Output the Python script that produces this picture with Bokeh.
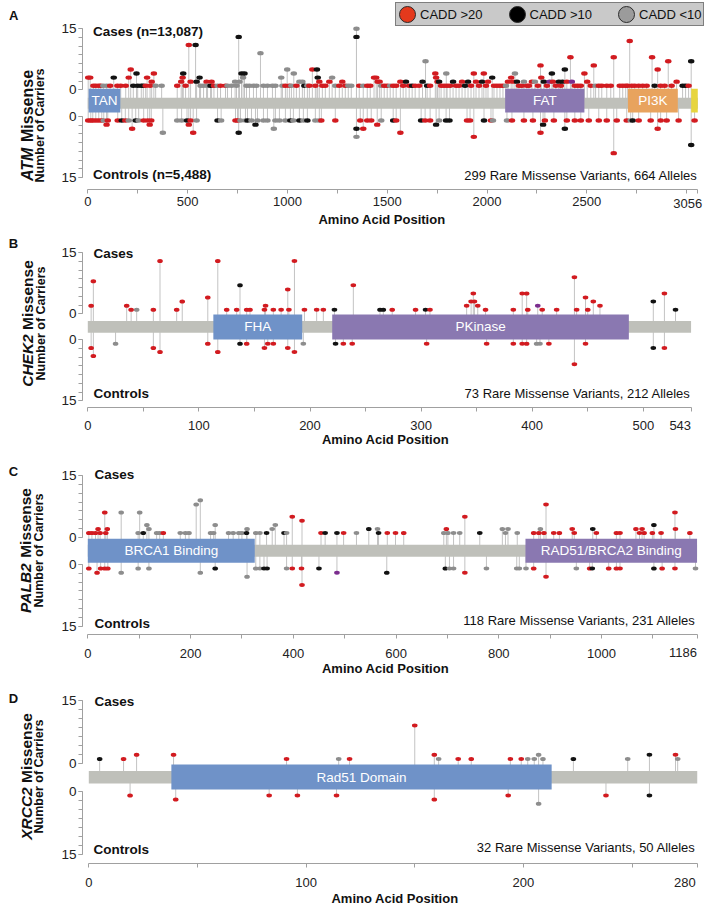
import math
import numpy as np
from bokeh.plotting import figure
from bokeh.models import (Range1d, LinearAxis, FixedTicker, Legend, LegendItem,
                          ColumnDataSource)
from bokeh.layouts import column
from bokeh.embed import file_html
from bokeh.resources import INLINE
from bokeh.core.properties import value

# ------------------------------------------------------------------ data
GENES = ["ATM", "CHEK2", "PALB2", "XRCC2"]
PANEL_LETTERS = ["A", "B", "C", "D"]
GENE_LENGTHS = [3056, 543, 1186, 280]
CASES_LABELS = ["Cases (n=13,087)", "Cases", "Cases", "Cases"]
CONTROLS_LABELS = ["Controls (n=5,488)", "Controls", "Controls", "Controls"]
SUMMARY_LABELS = ["299 Rare Missense Variants, 664 Alleles",
                  "73 Rare Missense Variants, 212 Alleles",
                  "118 Rare Missense Variants, 231 Alleles",
                  "32 Rare Missense Variants, 50 Alleles"]
X_TITLE = "Amino Acid Position"
Y_TITLE_WORD = "Missense"
Y_TITLE_2 = "Number of Carriers"
Y_TICK_LABELS = ["0", "15"]
Y_MAX = 15
LEGEND_LABELS = ["CADD >20", "CADD >10", "CADD <10"]

X_MAJOR_TICKS = [[0, 500, 1000, 1500, 2000, 2500, 3056],
                 [0, 100, 200, 300, 400, 500, 543],
                 [0, 200, 400, 600, 800, 1000, 1186],
                 [0, 100, 200, 280]]
X_MINOR_TICKS = [[250, 750, 1250, 1750, 2250, 2750, 3000],
                 [50, 150, 250, 350, 450],
                 [100, 300, 500, 700, 900, 1100],
                 [50, 150, 250]]

# domains
ATM_DOMAIN_NAMES = ["TAN", "FAT", "PI3K", ""]
ATM_DOMAIN_START = [4, 2091, 2706, 3023]
ATM_DOMAIN_END = [163, 2488, 2956, 3056]
ATM_DOMAIN_KIND = ["blue", "purple", "orange", "yellow"]

CHEK2_DOMAIN_NAMES = ["FHA", "PKinase"]
CHEK2_DOMAIN_START = [113, 220]
CHEK2_DOMAIN_END = [193, 487]
CHEK2_DOMAIN_KIND = ["blue", "purple"]

PALB2_DOMAIN_NAMES = ["BRCA1 Binding", "RAD51/BRCA2 Binding"]
PALB2_DOMAIN_START = [0, 852]
PALB2_DOMAIN_END = [325, 1186]
PALB2_DOMAIN_KIND = ["blue", "purple"]

XRCC2_DOMAIN_NAMES = ["Rad51 Domain"]
XRCC2_DOMAIN_START = [38]
XRCC2_DOMAIN_END = [213]
XRCC2_DOMAIN_KIND = ["blue"]

# CADD classes: r = >20, k = >10, g = <10, p = other
ATM_CASES_POS = [
    2, 12, 28, 40, 55, 65, 78, 95, 112, 130,
    148, 165, 190, 205, 215, 228, 244, 250, 268, 278,
    290, 297, 312, 320, 331, 340, 370, 448, 468, 475,
    478, 490, 506, 515, 540, 545, 560, 565, 580, 595,
    600, 615, 620, 632, 650, 665, 690, 700, 720, 738,
    745, 756, 760, 770, 778, 785, 795, 810, 830, 845,
    865, 880, 900, 925, 940, 969, 975, 990, 999, 1010,
    1020, 1032, 1045, 1060, 1075, 1085, 1100, 1110, 1125, 1140,
    1148, 1152, 1160, 1175, 1190, 1210, 1224, 1240, 1260, 1275,
    1290, 1305, 1320, 1346, 1346, 1360, 1380, 1400, 1415, 1434,
    1445, 1452, 1462, 1470, 1485, 1500, 1515, 1530, 1545, 1566,
    1580, 1594, 1610, 1625, 1640, 1660, 1677, 1692, 1700, 1715,
    1741, 1745, 1752, 1760, 1770, 1785, 1796, 1800, 1815, 1830,
    1845, 1860, 1875, 1890, 1905, 1920, 1934, 1945, 1960, 1975,
    1984, 1995, 2005, 2026, 2035, 2050, 2065, 2080, 2095, 2105,
    2121, 2130, 2140, 2150, 2160, 2175, 2185, 2200, 2210, 2225,
    2240, 2255, 2268, 2272, 2285, 2300, 2314, 2325, 2330, 2345,
    2360, 2370, 2378, 2390, 2400, 2418, 2425, 2440, 2455, 2470,
    2488, 2502, 2520, 2535, 2544, 2560, 2575, 2600, 2620, 2635,
    2665, 2680, 2695, 2705, 2715, 2725, 2740, 2760, 2780, 2800,
    2827, 2840, 2855, 2870, 2890, 2908, 2925, 2950, 2980, 2995,
    3010, 3023]
ATM_CASES_N = [
    3, 3, 1, 1, 1, 1, 1, 1, 1, 3,
    1, 1, 1, 3, 5, 1, 4, 1, 1, 1,
    1, 3, 1, 2, 4, 1, 1, 1, 2, 3,
    4, 1, 11, 2, 11, 2, 3, 1, 1, 2,
    1, 1, 2, 1, 1, 1, 1, 1, 1, 2,
    1, 13, 2, 4, 3, 4, 1, 1, 1, 1,
    9, 1, 1, 1, 1, 3, 1, 1, 5, 1,
    1, 4, 1, 2, 2, 1, 1, 1, 5, 1,
    5, 3, 2, 1, 1, 2, 3, 1, 1, 2,
    1, 1, 1, 15, 13, 1, 1, 1, 1, 3,
    3, 2, 2, 1, 1, 1, 1, 1, 1, 2,
    1, 2, 1, 1, 1, 1, 2, 7, 1, 1,
    4, 3, 2, 2, 1, 1, 4, 1, 1, 2,
    1, 1, 2, 1, 2, 1, 4, 2, 1, 2,
    4, 1, 2, 3, 1, 1, 1, 1, 1, 2,
    3, 2, 4, 2, 1, 1, 2, 1, 1, 2,
    2, 1, 6, 3, 2, 1, 2, 4, 2, 1,
    2, 1, 2, 5, 2, 8, 2, 1, 1, 1,
    4, 2, 1, 6, 1, 1, 1, 1, 1, 8,
    1, 1, 1, 1, 12, 1, 1, 1, 1, 1,
    8, 1, 5, 1, 1, 7, 1, 2, 1, 1,
    1, 7]
ATM_CASES_CADD = list(
    "rrrrrrggrk" "rrrrrkkkkk" "rrrrrggrrr" "krrrkkkggr" "gkrrgrrggg"
    "gkgkgkgggg" "gggggggrgr" "ggrggkgrrr" "kkrrrrggrr" "rggg" "krgrrr"
    "rrrgrrgrrr" "rkrkrrkgkr" "rrrkrrgrrk" "rrrkkrrrrk" "rrrkrrrrgr"
    "rrgkrrgrrr" "grrrkrpkrr" "krkkrrprrr" "rrrrgrrrrr" "rrrrrrrrrr"
    "rkrrrrrrkk" "rk")

ATM_CONTROLS_POS = [
    2, 15, 25, 40, 55, 70, 80, 94, 100, 150,
    170, 188, 205, 222, 240, 255, 280, 300, 310, 318,
    376, 448, 470, 497, 506, 515, 528, 545, 650, 668,
    740, 750, 756, 765, 790, 800, 820, 840, 850, 880,
    900, 932, 940, 960, 990, 1015, 1030, 1060, 1080, 1100,
    1140, 1160, 1170, 1240, 1346, 1346, 1365, 1380, 1400, 1420,
    1450, 1470, 1530, 1545, 1566, 1670, 1690, 1715, 1745, 1760,
    1795, 1812, 1900, 1915, 1934, 1985, 2020, 2030, 2100, 2125,
    2185, 2230, 2268, 2281, 2290, 2335, 2390, 2400, 2440, 2470,
    2510, 2560, 2600, 2635, 2650, 2700, 2720, 2730, 2760, 2820,
    2855, 2870, 2900, 2960, 3023, 3040]
ATM_CONTROLS_N = [
    1, 1, 1, 1, 1, 1, 1, 2, 1, 1,
    1, 1, 1, 3, 1, 1, 1, 1, 2, 1,
    4, 1, 1, 1, 2, 1, 4, 1, 1, 1,
    1, 1, 4, 1, 1, 1, 1, 2, 1, 1,
    1, 3, 1, 1, 1, 1, 1, 1, 1, 1,
    1, 1, 1, 1, 3, 5, 1, 3, 1, 1,
    2, 1, 1, 1, 4, 1, 1, 1, 2, 1,
    1, 1, 1, 1, 5, 1, 1, 1, 1, 1,
    1, 1, 4, 2, 1, 1, 3, 1, 1, 1,
    1, 1, 1, 9, 1, 1, 1, 1, 1, 1,
    3, 1, 1, 1, 7, 1]
ATM_CONTROLS_CADD = list(
    "rrrrrrgrrr" "krgrkgrrrr" "gggkrrrgkg" "rrkggkgkgg" "gggggkgkgk"
    "ggrrkgrrrr" "rgkrrkrrkg" "kkrrrkrggr" "rrrkrrkrrr" "rrrrrrgkrr"
    "rrrrkr")

CHEK2_CASES_POS = [3, 5, 35, 39, 44, 59, 65, 80, 85, 108,
                   117, 125, 134, 137, 143, 146, 159, 160, 167, 174,
                   180, 181, 186, 195, 206, 212, 222, 239, 263, 266,
                   274, 295, 304, 308, 341, 345, 347, 348, 351, 358,
                   383, 391, 395, 396, 405, 409, 422, 438, 440, 448,
                   450, 455, 461, 509, 519, 529]
CHEK2_CASES_N = [2, 8, 2, 1, 1, 1, 13, 1, 3, 4,
                 13, 1, 1, 7, 1, 1, 1, 2, 1, 1,
                 6, 1, 13, 1, 1, 1, 1, 7, 1, 1,
                 1, 1, 1, 1, 2, 3, 5, 3, 2, 1,
                 1, 5, 5, 1, 2, 1, 1, 9, 1, 4,
                 1, 3, 2, 3, 5, 1]
CHEK2_CASES_CADD = list("rrrrgrrrrr" "rrrkrrrrrr" "rrrrrrkrkk" "rrkrrrrrrr"
                        "rrrrprrrrr" "rrrkrk")
CHEK2_CONTROLS_POS = [3, 5, 25, 59, 65, 108, 117, 137, 143, 159,
                      162, 167, 180, 186, 194, 223, 230, 238, 305, 359,
                      383, 391, 395, 404, 407, 415, 438, 448, 509, 519]
CHEK2_CONTROLS_N = [2, 4, 1, 2, 3, 1, 3, 1, 1, 2,
                    1, 1, 2, 3, 1, 1, 1, 1, 1, 1,
                    1, 1, 1, 1, 1, 1, 6, 1, 2, 2]
CHEK2_CONTROLS_CADD = list("rrgrrrrkrr" "rrrrgkrrrr" "rrrggrrrkr")

PALB2_CASES_POS = [2, 8, 15, 20, 24, 33, 35, 38, 65, 98,
                   101, 108, 115, 119, 134, 140, 147, 180, 190, 197,
                   211, 219, 239, 245, 248, 274, 283, 294, 300, 309,
                   310, 327, 335, 348, 359, 365, 382, 387, 398, 417,
                   454, 462, 485, 498, 523, 547, 564, 566, 583, 599,
                   615, 693, 698, 701, 712, 724, 734, 763, 807, 813,
                   818, 836, 868, 878, 881, 888, 892, 907, 918, 943,
                   947, 983, 990, 1029, 1036, 1067, 1074, 1079, 1083, 1099,
                   1102, 1116, 1143, 1144, 1172]
PALB2_CASES_N = [1, 1, 1, 2, 1, 6, 1, 2, 6, 1,
                 6, 1, 3, 2, 1, 1, 1, 1, 1, 1,
                 8, 9, 1, 1, 3, 1, 1, 1, 1, 1,
                 2, 1, 1, 1, 2, 3, 1, 1, 5, 4,
                 1, 1, 1, 1, 1, 2, 2, 1, 1, 1,
                 1, 1, 2, 1, 1, 1, 5, 1, 2, 1,
                 2, 1, 1, 1, 2, 1, 8, 1, 1, 2,
                 1, 2, 1, 1, 1, 2, 1, 2, 1, 1,
                 3, 1, 6, 2, 1]
PALB2_CASES_CADD = list("rrrrrrrrgg" "gkggggrggg" "gggggggggk" "gggkggkgrr"
                        "rkkrgkgkrr" "rgrgggrkgg" "ggrrgrrrrr" "rkrrrrrrrr"
                        "krrrr")
PALB2_CONTROLS_POS = [2, 18, 25, 33, 39, 65, 98, 119, 219, 248,
                      310, 327, 335, 343, 349, 387, 398, 416, 417, 450,
                      485, 582, 696, 704, 712, 734, 776, 835, 840, 853,
                      868, 892, 951, 977, 982, 1014, 1029, 1036, 1102, 1118,
                      1143, 1183]
PALB2_CONTROLS_N = [1, 2, 1, 1, 1, 2, 1, 1, 2, 1,
                    3, 1, 1, 1, 1, 1, 1, 1, 5, 1,
                    2, 2, 1, 1, 1, 2, 1, 1, 1, 1,
                    1, 3, 1, 1, 1, 1, 1, 1, 1, 1,
                    1, 1]
PALB2_CONTROLS_CADD = list("rrrrrggggk" "gggkkgrrrk" "pkkggrgggg" "rrgrkrrrkr" "rg")

XRCC2_CASES_POS = [5, 16, 22, 39, 91, 115, 120, 150, 159, 161,
                   170, 176, 194, 199, 202, 205, 207, 209, 223, 248,
                   258, 270, 271]
XRCC2_CASES_N = [1, 1, 2, 2, 1, 1, 1, 9, 2, 1,
                 1, 1, 1, 1, 1, 1, 2, 1, 1, 1,
                 2, 2, 1]
XRCC2_CASES_CADD = list("krrrrgrrrg" "rrrrggggkg" "krg")
XRCC2_CONTROLS_POS = [19, 40, 83, 96, 114, 159, 193, 207, 238, 258]
XRCC2_CONTROLS_N = [1, 2, 1, 1, 1, 2, 1, 3, 1, 1]
XRCC2_CONTROLS_CADD = list("rrrrrrrgrk")

GENE_DATA = [
    (ATM_DOMAIN_NAMES, ATM_DOMAIN_START, ATM_DOMAIN_END, ATM_DOMAIN_KIND,
     ATM_CASES_POS, ATM_CASES_N, ATM_CASES_CADD,
     ATM_CONTROLS_POS, ATM_CONTROLS_N, ATM_CONTROLS_CADD),
    (CHEK2_DOMAIN_NAMES, CHEK2_DOMAIN_START, CHEK2_DOMAIN_END, CHEK2_DOMAIN_KIND,
     CHEK2_CASES_POS, CHEK2_CASES_N, CHEK2_CASES_CADD,
     CHEK2_CONTROLS_POS, CHEK2_CONTROLS_N, CHEK2_CONTROLS_CADD),
    (PALB2_DOMAIN_NAMES, PALB2_DOMAIN_START, PALB2_DOMAIN_END, PALB2_DOMAIN_KIND,
     PALB2_CASES_POS, PALB2_CASES_N, PALB2_CASES_CADD,
     PALB2_CONTROLS_POS, PALB2_CONTROLS_N, PALB2_CONTROLS_CADD),
    (XRCC2_DOMAIN_NAMES, XRCC2_DOMAIN_START, XRCC2_DOMAIN_END, XRCC2_DOMAIN_KIND,
     XRCC2_CASES_POS, XRCC2_CASES_N, XRCC2_CASES_CADD,
     XRCC2_CONTROLS_POS, XRCC2_CONTROLS_N, XRCC2_CONTROLS_CADD),
]

# ------------------------------------------------------------------ style
FONT = "Liberation Sans"
CADD_COLOR = {"r": "#d21b20", "k": "#121212", "g": "#8d8d8d", "p": "#7b2d8e"}
LEGEND_COLORS = ["#e4391c", "#000000", "#9b9b9b"]
DOMAIN_COLOR = {"blue": "#6f92c8", "purple": "#8a78b1", "orange": "#e8a35e",
                "yellow": "#e7d53e"}
BAR_COLOR = "#bfc0ba"
STEM_COLOR = "#c3c3c3"
AXIS_COLOR = "#a0a0a0"
TEXT_COLOR = "#111111"

# Arial-metric advance widths (per 1000 em) for laying out the mixed-style titles
BOLD_W = {"A": 722, "T": 611, "M": 833, "C": 722, "H": 722, "E": 667, "K": 722,
          "2": 556, "P": 667, "L": 611, "B": 722, "X": 667, "R": 722, " ": 278,
          "i": 278, "s": 556, "e": 556, "n": 611}

W = 708
ORIGIN = 0   # page x/y of the canvas origin (the page template has no margin)

LAYOUT = [
    dict(top=0, height=229, x0=87.3, k=0.1996, yc=102.65, s=4.07, G=3.28,
         box=(3.53, -2.3), bar=1.35, xaxis_py=188.8, yaxis_px=82.0, dot=(6.5, 4.4),
         xlab_standoff=4, last_label=(4.5, 202.5), letter=(13.3, 15.0), cases=(92.5, 31.0),
         controls=(92.5, 174.0), summary=(697.0, 175.0), xtitle=(381.5, 219.0),
         ytitle_c=125.0, ytitle_x=(27.0, 39.5), gene_size=16.0, legend=True),
    dict(top=229, height=226, x0=87.3, k=1.111, yc=326.3, s=4.07, G=3.19,
         box=(3.05, -3.1), bar=1.44, xaxis_py=406.7, yaxis_px=82.0, dot=(5.6, 4.0),
         xlab_standoff=10, last_label=(0.0, 425.0), letter=(13.0, 243.0), cases=(93.0, 253.3),
         controls=(93.0, 392.7), summary=(690.0, 392.7), xtitle=(385.0, 439.0),
         ytitle_c=323.0, ytitle_x=(27.0, 40.0), gene_size=15.5, legend=False),
    dict(top=455, height=228, x0=87.3, k=0.5137, yc=550.35, s=4.1, G=3.33,
         box=(2.95, -2.93), bar=1.46, xaxis_py=634.0, yaxis_px=82.0, dot=(5.6, 4.0),
         xlab_standoff=10, last_label=(0.0, 652.3), letter=(13.0, 470.7), cases=(94.0, 474.3),
         controls=(94.0, 622.7), summary=(695.0, 620.0), xtitle=(385.0, 668.0),
         ytitle_c=550.0, ytitle_x=(24.5, 38.0), gene_size=15.5, legend=False),
    dict(top=683, height=234, x0=88.3, k=2.173, yc=776.7, s=4.2, G=3.33,
         box=(3.0, -2.95), bar=1.5, xaxis_py=862.7, yaxis_px=82.0, dot=(5.6, 4.0),
         xlab_standoff=11, last_label=(-1.5, 881.7), letter=(13.0, 698.3), cases=(94.0, 701.0),
         controls=(93.0, 849.0), summary=(695.0, 846.7), xtitle=(394.5, 898.0),
         ytitle_c=776.0, ytitle_x=(25.5, 38.5), gene_size=15.5, legend=False),
]


def build(i):
    cfg = LAYOUT[i]
    (dnames, dstart, dend, dkind, cpos, cn, ccadd, kpos, kn, kcadd) = GENE_DATA[i]
    L = GENE_LENGTHS[i]
    top, H = cfg["top"], cfg["height"]
    x0, k, yc, s, G = cfg["x0"], cfg["k"], cfg["yc"], cfg["s"], cfg["G"]

    def fx(px):
        return (px - x0) / k

    def fy(py):
        return (yc - py) / s

    p = figure(width=W, height=H,
               x_range=Range1d(fx(ORIGIN), fx(ORIGIN + W)),
               y_range=Range1d(fy(top + H), fy(top)),
               x_axis_type=None, y_axis_type=None,
               output_backend="svg", toolbar_location=None, min_border=0,
               outline_line_color=None, background_fill_color="white",
               border_fill_color="white")

    # ---- lollipops
    xs = list(cpos) + list(kpos)
    ys = [G + n for n in cn] + [-(G + n) for n in kn]
    cols = [CADD_COLOR[c] for c in list(ccadd) + list(kcadd)]
    src = ColumnDataSource(dict(x=xs, y=ys, base=[0.0] * len(xs), color=cols))
    p.segment(x0="x", y0="base", x1="x", y1="y", source=src,
              line_color=STEM_COLOR, line_width=1)

    # ---- protein bar and domains
    p.quad(left=[0], right=[L], bottom=[-cfg["bar"]], top=[cfg["bar"]],
           fill_color=BAR_COLOR, line_color=None)
    btop, bbot = cfg["box"]
    dsrc = ColumnDataSource(dict(
        left=dstart, right=dend, top=[btop] * len(dstart), bottom=[bbot] * len(dstart),
        color=[DOMAIN_COLOR[kd] for kd in dkind],
        xm=[(a + b) / 2 for a, b in zip(dstart, dend)],
        ym=[(btop + bbot) / 2] * len(dstart), name=dnames))
    p.quad(left="left", right="right", top="top", bottom="bottom", source=dsrc,
           fill_color="color", line_color=None)
    p.text(x="xm", y="ym", text="name", source=dsrc, text_color="white",
           text_font=value(FONT), text_font_size="13.5px", text_align="center",
           text_baseline="middle")

    dw, dh = cfg["dot"]
    p.ellipse(x="x", y="y", width=dw, height=dh, width_units="screen",
              height_units="screen", source=src, fill_color="color", line_color=None)

    # ---- y axes (cases up, controls down)
    ya_x = fx(cfg["yaxis_px"])
    for sign in (1, -1):
        t0, t15 = sign * G, sign * (G + Y_MAX)
        minors = [sign * (G + Y_MAX * j / 7.0) for j in range(8)]
        ax = LinearAxis(fixed_location=ya_x,
                        bounds=(min(t0, t15), max(t0, t15)),
                        ticker=FixedTicker(ticks=[t0, t15], minor_ticks=minors),
                        major_label_overrides={t0: Y_TICK_LABELS[0], t15: Y_TICK_LABELS[1]})
        ax.axis_line_color = AXIS_COLOR
        ax.major_tick_line_color = AXIS_COLOR
        ax.minor_tick_line_color = AXIS_COLOR
        ax.major_tick_in = 0
        ax.major_tick_out = 4
        ax.minor_tick_in = 0
        ax.minor_tick_out = 4
        ax.major_label_standoff = 2
        ax.major_label_text_font = FONT
        ax.major_label_text_font_size = "13.5px"
        ax.major_label_text_color = "#222222"
        p.add_layout(ax, "left")

    # ---- x axis (the end label is set flush with its tick, as in the original)
    last = X_MAJOR_TICKS[i][-1]
    xa = LinearAxis(fixed_location=fy(cfg["xaxis_py"]), bounds=(0, L),
                    ticker=FixedTicker(ticks=X_MAJOR_TICKS[i], minor_ticks=X_MINOR_TICKS[i]),
                    major_label_overrides={last: ""})
    xa.axis_line_color = AXIS_COLOR
    xa.major_tick_line_color = AXIS_COLOR
    xa.minor_tick_line_color = AXIS_COLOR
    xa.major_tick_in = 0
    xa.major_tick_out = 4
    xa.minor_tick_in = 0
    xa.minor_tick_out = 4
    xa.major_label_standoff = cfg["xlab_standoff"]
    xa.major_label_text_font = FONT
    xa.major_label_text_font_size = "13px"
    xa.major_label_text_color = "#222222"
    p.add_layout(xa, "below")
    dx, ly = cfg["last_label"]
    p.text(x=[last], y=[fy(ly)], text=[str(last)], x_offset=dx,
           text_font=value(FONT), text_font_size="13px", text_color="#222222",
           text_align="right", text_baseline="middle")

    # ---- texts
    def txt(px, py, t, size, style="normal", align="left", angle=0.0, color=TEXT_COLOR):
        p.text(x=[fx(px)], y=[fy(py)], text=[t], text_font=value(FONT),
               text_font_size=size, text_font_style=style, text_align=align,
               text_baseline="middle", text_color=color, angle=angle)

    txt(*cfg["letter"], PANEL_LETTERS[i], "13px", "bold", "center")
    txt(*cfg["cases"], CASES_LABELS[i], "13.5px", "bold")
    txt(*cfg["controls"], CONTROLS_LABELS[i], "13.5px", "bold")
    txt(*cfg["summary"], SUMMARY_LABELS[i], "13px", "normal", "right")
    txt(*cfg["xtitle"], X_TITLE, "13px", "bold", "center")

    # y title: italic gene symbol + "Missense", second line "Number of Carriers"
    f = cfg["gene_size"]
    gene = GENES[i]
    gw = sum(BOLD_W[c] for c in gene) * f / 1000.0
    sw = BOLD_W[" "] * f / 1000.0
    mw = sum(BOLD_W[c] for c in Y_TITLE_WORD) * f / 1000.0
    total = gw + sw + mw
    x1, x2 = cfg["ytitle_x"]
    ybot = cfg["ytitle_c"] + total / 2.0
    txt(x1, ybot, gene, "%.1fpx" % f, "bold italic", "left", math.pi / 2)
    txt(x1, ybot - gw - sw, Y_TITLE_WORD, "%.1fpx" % f, "bold", "left", math.pi / 2)
    txt(x2, cfg["ytitle_c"], Y_TITLE_2, "12.5px", "bold", "center", math.pi / 2)

    # ---- legend
    if cfg["legend"]:
        items = []
        for lab, colr in zip(LEGEND_LABELS, LEGEND_COLORS):
            r = p.ellipse(x=[np.nan], y=[np.nan], width=16, height=16,
                          width_units="screen", height_units="screen",
                          fill_color=colr, line_color="#2a2a2a", line_width=1)
            items.append(LegendItem(label=lab, renderers=[r]))
        leg = Legend(items=items, orientation="horizontal", location=(395, H - 26))
        leg.background_fill_color = "#c9c9c9"
        leg.background_fill_alpha = 1.0
        leg.border_line_color = "#333333"
        leg.border_line_width = 1
        leg.label_text_font = FONT
        leg.label_text_font_size = "13px"
        leg.label_text_color = TEXT_COLOR
        leg.glyph_width = 20
        leg.glyph_height = 20
        leg.label_height = 20
        leg.label_standoff = 3
        leg.padding = 1
        leg.spacing = 24
        leg.margin = 0
        p.add_layout(leg)
    return p


figs = [build(i) for i in range(4)]
layout = column(*figs, spacing=0)
open("out.html", "w").write(file_html(layout, INLINE))
